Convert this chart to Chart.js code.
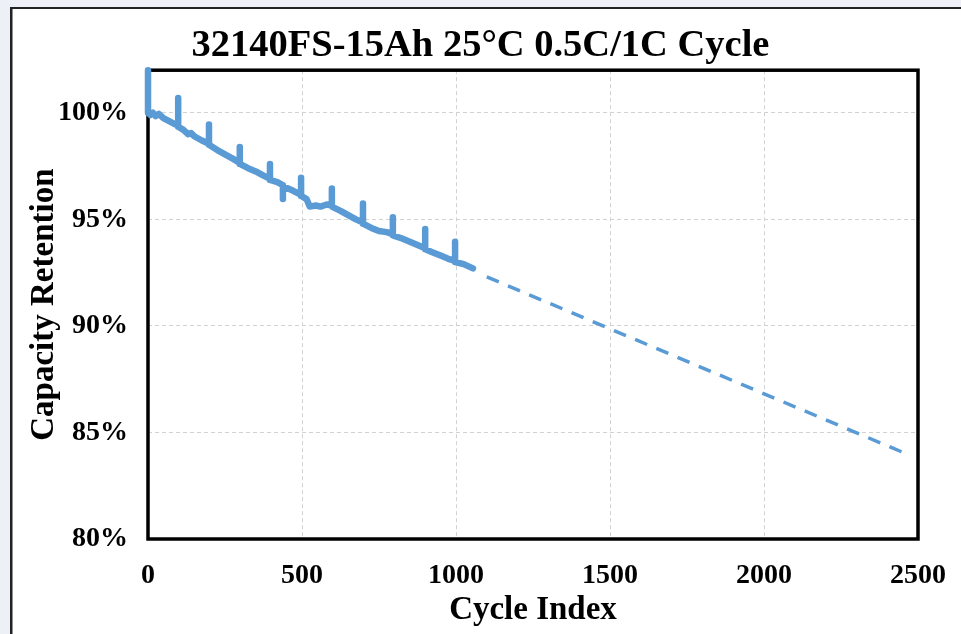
<!DOCTYPE html>
<html lang="en">
<head>
    <meta charset="UTF-8">
    <title>32140FS-15Ah 25°C 0.5C/1C Cycle</title>
    <script src="https://cdn.jsdelivr.net/npm/chart.js"></script>
    <style>
        html, body { margin: 0; padding: 0; background: #eef0f7; }
        .wrap { position: relative; width: 961px; height: 634px; }
    </style>
</head>
<body>
<div class="wrap"><canvas id="cycleChart" width="961" height="634"></canvas></div>
<script>
    // measured cycle data (solid) - spikes are the periodic checkup cycles
    const measuredCycles = [0, 0, 8, 16, 25, 35, 50, 70, 90, 98, 98, 98, 115, 130, 140, 150, 175, 198, 198, 198,
        225, 250, 275, 298, 298, 298, 325, 350, 375, 396, 396, 396, 420, 438, 438, 438, 470, 497, 497, 497,
        515, 525, 545, 560, 580, 597, 597, 597, 625, 650, 675, 698, 698, 698, 725, 750, 775, 795, 795, 795,
        825, 850, 875, 900, 900, 900, 925, 950, 975, 997, 997, 997, 1025, 1055];
    const measuredRetention = [102.0, 100.0, 99.9, 100.0, 99.85, 99.95, 99.75, 99.6, 99.45, 99.4, 100.7, 99.35, 99.2, 99.0, 99.05, 98.9, 98.7, 98.55, 99.45, 98.5,
        98.25, 98.05, 97.85, 97.65, 98.4, 97.6, 97.4, 97.25, 97.05, 96.9, 97.6, 96.85, 96.75, 96.6, 95.95, 96.55, 96.35, 96.15, 96.95, 96.1,
        95.95, 95.6, 95.65, 95.6, 95.7, 95.65, 96.45, 95.6, 95.4, 95.2, 95.0, 94.85, 95.75, 94.8, 94.6, 94.45, 94.4, 94.3, 95.1, 94.25,
        94.1, 93.95, 93.8, 93.65, 94.55, 93.6, 93.45, 93.3, 93.15, 93.05, 93.95, 93.0, 92.9, 92.7];

    // extrapolated trend (dashed)
    const trendCycles = [1100, 2470];
    const trendRetention = [92.3, 83.95];

    const xTicks = [0, 500, 1000, 1500, 2000, 2500];
    const yTicks = [80, 85, 90, 95, 100];

    const blue = '#5B9BD5';
    const serif = '"Liberation Serif", "Times New Roman", serif';

    function toPoints(xs, ys) {
        return xs.map((x, i) => ({ x: x, y: ys[i] }));
    }

    const pageFrame = {
        id: 'pageFrame',
        beforeDraw(chart) {
            const ctx = chart.ctx;
            ctx.save();
            ctx.fillStyle = '#eef0f7';
            ctx.fillRect(0, 0, chart.width, chart.height);
            ctx.fillStyle = '#ffffff';
            ctx.fillRect(10, 7, chart.width - 10, chart.height - 7);
            ctx.fillStyle = '#222222';
            ctx.fillRect(10, 7, chart.width - 10, 2);
            ctx.fillRect(10, 7, 2.5, chart.height - 7);
            ctx.restore();
        },
        beforeDatasetsDraw(chart) {
            const a = chart.chartArea;
            const ctx = chart.ctx;
            ctx.save();
            ctx.strokeStyle = '#000000';
            ctx.lineWidth = 3.5;
            ctx.strokeRect(a.left, a.top, a.right - a.left, a.bottom - a.top);
            ctx.restore();
        }
    };

    // hide grid lines on the box edges
    function innerGrid(first, last) {
        return (c) => {
            const v = c.tick ? c.tick.value : null;
            return (v <= first || v >= last) ? 'rgba(0,0,0,0)' : '#d2d2d2';
        };
    }

    new Chart(document.getElementById('cycleChart'), {
        type: 'line',
        data: {
            datasets: [{
                data: toPoints(measuredCycles, measuredRetention),
                borderColor: blue,
                borderWidth: 6.5,
                borderCapStyle: 'round',
                borderJoinStyle: 'round',
                pointRadius: 0,
                tension: 0,
                clip: false
            }, {
                data: toPoints(trendCycles, trendRetention),
                borderColor: blue,
                borderWidth: 3.5,
                borderDash: [13, 10],
                pointRadius: 0,
                tension: 0
            }]
        },
        options: {
            responsive: false,
            animation: false,
            layout: { padding: { left: 10, right: 10, top: 0, bottom: 0 } },
            plugins: {
                legend: { display: false },
                tooltip: { enabled: false },
                title: {
                    display: true,
                    text: '32140FS-15Ah 25°C 0.5C/1C Cycle',
                    color: '#000',
                    font: { family: serif, size: 38.5, weight: 'bold', lineHeight: 1.2 },
                    padding: { top: 23, bottom: 1 }
                }
            },
            scales: {
                x: {
                    type: 'linear',
                    min: 0,
                    max: 2500,
                    afterBuildTicks: (s) => { s.ticks = xTicks.map(v => ({ value: v })); },
                    afterFit: (s) => { s.height = 95; s.paddingLeft = 0; s.paddingRight = 0; },
                    border: { display: false, dash: [4, 3] },
                    grid: { color: innerGrid(0, 2500), lineWidth: 1, drawTicks: false },
                    ticks: {
                        color: '#000',
                        padding: 20,
                        maxRotation: 0,
                        font: { family: serif, size: 28, weight: 'bold' },
                        callback: (v) => String(v)
                    },
                    title: {
                        display: true,
                        text: 'Cycle Index',
                        color: '#000',
                        font: { family: serif, size: 33, weight: 'bold', lineHeight: 1.2 },
                        padding: { top: 0, bottom: 4 }
                    }
                },
                y: {
                    min: 80,
                    max: 102,
                    afterBuildTicks: (s) => { s.ticks = yTicks.map(v => ({ value: v })); },
                    afterFit: (s) => { s.width = 138; },
                    border: { display: false, dash: [4, 3] },
                    grid: { color: innerGrid(80, 101), lineWidth: 1, drawTicks: false },
                    ticks: {
                        color: '#000',
                        padding: 20,
                        font: { family: serif, size: 28, weight: 'bold' },
                        callback: (v) => v + '%'
                    },
                    title: {
                        display: true,
                        text: 'Capacity Retention',
                        color: '#000',
                        font: { family: serif, size: 33, weight: 'bold', lineHeight: 1.2 },
                        padding: { top: 15, bottom: 0 }
                    }
                },
                yRight: {
                    position: 'right',
                    display: true,
                    min: 80,
                    max: 102,
                    afterFit: (s) => { s.width = 33; },
                    border: { display: false },
                    grid: { display: false, drawTicks: false },
                    ticks: { display: false }
                }
            }
        },
        plugins: [pageFrame]
    });
</script>
</body>
</html>
